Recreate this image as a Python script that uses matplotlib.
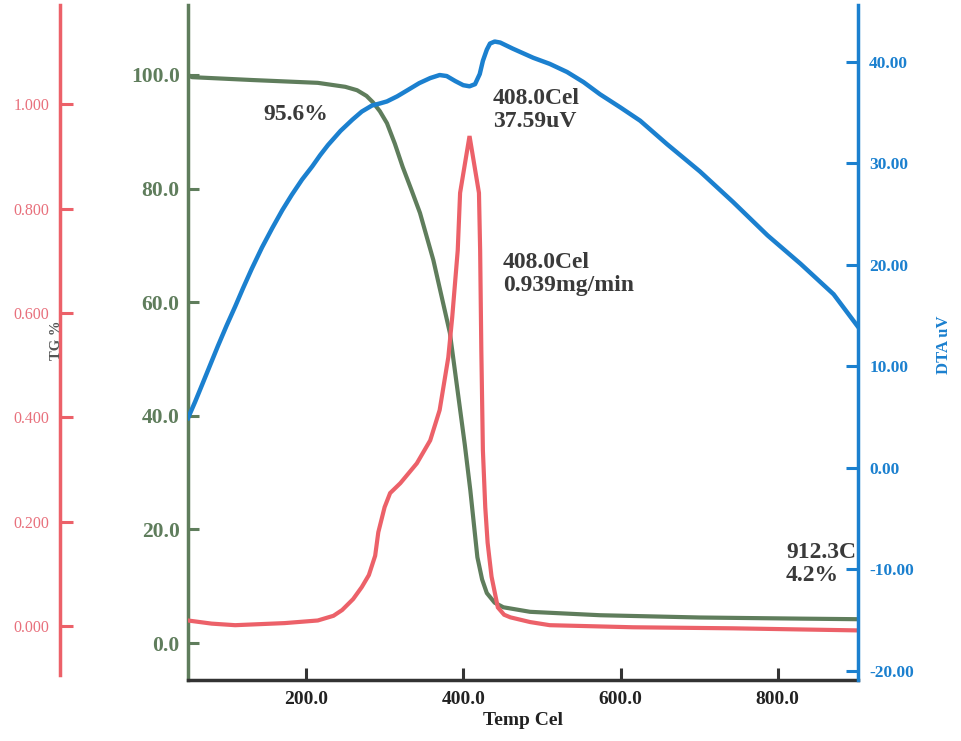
import matplotlib
matplotlib.use("Agg")
import matplotlib.pyplot as plt

# ---- data -------------------------------------------------------------
tg_temp = [50, 55, 131, 215, 250, 265, 277, 285, 294, 303, 313, 323, 334,
           345, 362, 383, 402, 409, 418, 424, 430, 440, 451, 485, 574, 701,
           829, 902]
tg_pct = [100.0, 99.6, 99.1, 98.6, 97.9, 97.3, 96.3, 95.2, 93.6, 91.5, 87.9,
          83.8, 79.8, 75.7, 67.4, 54.6, 34.9, 26.9, 15.1, 11.2, 8.8, 7.1, 6.3,
          5.5, 4.9, 4.5, 4.3, 4.2]

dtg_temp = [50, 80, 110, 173, 215, 235, 246, 260, 271, 280, 288, 292, 300,
            307, 320, 341, 358, 370, 381, 386, 393, 396, 408, 420, 421.5, 423,
            425, 428, 431, 436, 444, 452, 460, 485, 510, 616, 743, 902]
dtg_rate = [0.011, 0.005, 0.002, 0.006, 0.011, 0.020, 0.031, 0.052, 0.075,
            0.098, 0.135, 0.180, 0.228, 0.255, 0.274, 0.312, 0.356, 0.414,
            0.515, 0.592, 0.720, 0.830, 0.939, 0.830, 0.720, 0.529, 0.337,
            0.228, 0.160, 0.095, 0.036, 0.022, 0.017, 0.008, 0.002, -0.002,
            -0.004, -0.008]

dta_temp = [50, 59, 68, 78, 88, 99, 110, 120, 131, 144, 157, 170, 182, 195,
            208, 218, 228, 244, 259, 271, 284, 294, 303, 316, 329, 344, 358,
            370, 379, 390, 400, 408, 415, 421, 425, 430, 434, 440, 447, 463,
            489, 510, 532, 553, 574, 600, 625, 659, 701, 743, 787, 829, 871,
            901]
dta_uv = [4.9, 6.5, 8.2, 10.1, 12.0, 14.0, 15.9, 17.7, 19.6, 21.7, 23.6,
          25.4, 26.9, 28.4, 29.7, 30.8, 31.8, 33.2, 34.3, 35.1, 35.7, 35.9,
          36.1, 36.6, 37.2, 37.9, 38.4, 38.7, 38.6, 38.1, 37.7, 37.59, 37.8,
          38.8, 40.1, 41.2, 41.8, 42.0, 41.9, 41.3, 40.4, 39.8, 39.0, 38.0,
          36.8, 35.5, 34.2, 31.9, 29.2, 26.2, 22.9, 20.1, 17.1, 14.0]

x_ticks = [200, 400, 600, 800]
tg_ticks = [0, 20, 40, 60, 80, 100]
dtg_ticks = [0.0, 0.2, 0.4, 0.6, 0.8, 1.0]
dta_ticks = [-20, -10, 0, 10, 20, 30, 40]

# ---- styling ----------------------------------------------------------
GREEN = "#5f7d5c"
RED = "#ec6169"
RED_TXT = "#e8707c"
BLUE = "#1b80cf"
DARK = "#333333"
SERIF = ["Liberation Serif", "DejaVu Serif"]

plt.rcParams["font.family"] = SERIF
plt.rcParams["font.weight"] = "bold"

fig = plt.figure(figsize=(9.61, 7.41), dpi=100)
ax = fig.add_axes([188 / 961, 1 - 680 / 741, 670 / 961, 675 / 741])
ax_dtg = ax.twinx()
ax_dta = ax.twinx()

# TG (mass %)
ax.plot(tg_temp, tg_pct, color=GREEN, lw=3.0, solid_capstyle="round",
        solid_joinstyle="round")
ax.set_xlim(50, 902)
ax.set_ylim(-6.5, 112.3)
ax.set_xticks(x_ticks)
ax.set_xticklabels([f"{t:.1f}" for t in x_ticks], fontsize=14,
                   fontweight="bold", color="#222222")
ax.set_yticks(tg_ticks)
ax.set_yticklabels([f"{t:.1f}" for t in tg_ticks], fontsize=15.5,
                   fontweight="bold", color=GREEN)
ax.tick_params(axis="y", direction="in", length=8, width=2.2, color=GREEN,
               pad=6)
ax.tick_params(axis="x", direction="in", length=9, width=2.2, color=DARK,
               pad=8)
ax.spines["left"].set_color(GREEN)
ax.spines["left"].set_linewidth(2.5)
ax.spines["bottom"].set_color(DARK)
ax.spines["bottom"].set_linewidth(2.5)
ax.spines["top"].set_visible(False)
ax.spines["right"].set_visible(False)
ax.set_xlabel("Temp Cel", fontsize=14, fontweight="bold", color="#222222",
              labelpad=3)

# DTG (mg/min) on an offset left axis
ax_dtg.plot(dtg_temp, dtg_rate, color=RED, lw=3.0, solid_joinstyle="miter")
ax_dtg.set_ylim(-0.103, 1.19)
ax_dtg.yaxis.set_ticks_position("left")
ax_dtg.yaxis.set_label_position("left")
ax_dtg.spines["left"].set_position(("outward", 92))
ax_dtg.spines["left"].set_visible(True)
ax_dtg.spines["left"].set_color(RED)
ax_dtg.spines["left"].set_linewidth(2.5)
ax_dtg.spines["left"].set_bounds(-0.093, 1.19)
for s in ("right", "top", "bottom"):
    ax_dtg.spines[s].set_visible(False)
ax_dtg.set_yticks(dtg_ticks)
ax_dtg.set_yticklabels([f"{t:.3f}" for t in dtg_ticks], fontsize=11.5,
                       fontweight="normal", color=RED_TXT)
ax_dtg.tick_params(axis="y", direction="in", length=9, width=2.2,
                   color=RED, pad=8)

# DTA (uV) on the right
ax_dta.plot(dta_temp, dta_uv, color=BLUE, lw=3.2, solid_joinstyle="round")
ax_dta.set_ylim(-20.9, 45.6)
for s in ("left", "top", "bottom"):
    ax_dta.spines[s].set_visible(False)
ax_dta.spines["right"].set_color(BLUE)
ax_dta.spines["right"].set_linewidth(2.5)
ax_dta.set_yticks(dta_ticks)
ax_dta.set_yticklabels([f"{t:.2f}" for t in dta_ticks], fontsize=12.5,
                       fontweight="bold", color=BLUE)
ax_dta.tick_params(axis="y", direction="in", length=9, width=2.2,
                   color=BLUE, pad=8)

# axis titles
fig.text(57 / 961, 1 - 340 / 741, "TG %", rotation=90, ha="center",
         va="center", fontsize=10.5, fontweight="bold", color="#555555")
fig.text(944 / 961, 1 - 345 / 741, "DTA uV", rotation=90, ha="center",
         va="center", fontsize=12, fontweight="bold", color=BLUE)

# peak / step annotations
ann = dict(fontsize=17, fontweight="bold", color="#3a3a3a", ha="left",
           va="center", linespacing=1.1)
fig.text(263 / 961, 1 - 115 / 741, "95.6%", **ann)
fig.text(493 / 961, 1 - 110 / 741, "408.0Cel\n37.59uV", **ann)
fig.text(503 / 961, 1 - 274 / 741, "408.0Cel\n0.939mg/min", **ann)
fig.text(786 / 961, 1 - 564 / 741, "912.3C\n4.2%", **ann)

fig.savefig("out.png", dpi=100)
